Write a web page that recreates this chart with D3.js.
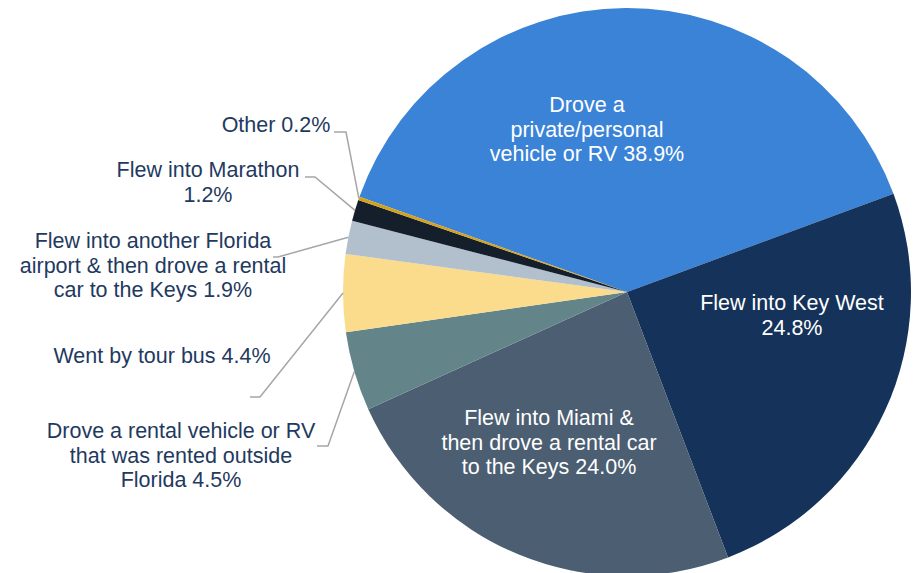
<!DOCTYPE html>
<html>
<head>
<meta charset="utf-8">
<script src="https://cdn.jsdelivr.net/npm/d3@7"></script>
<style>
  body { margin: 0; background: #fff; }
  text { font-family: "Liberation Sans", Arial, sans-serif; }
</style>
</head>
<body>
<div id="chart"></div>
<script>
// categories (clockwise, starting with the big blue slice)
var categories = [
    "Drove a private/personal vehicle or RV",
    "Flew into Key West",
    "Flew into Miami & then drove a rental car to the Keys",
    "Drove a rental vehicle or RV that was rented outside Florida",
    "Went by tour bus",
    "Flew into another Florida airport & then drove a rental car to the Keys",
    "Flew into Marathon",
    "Other"
];
var values = [38.9, 24.8, 24.0, 4.5, 4.4, 1.9, 1.2, 0.2];
var colors = ["#3b83d7", "#15325a", "#4b5e72", "#63858a", "#fadc8c", "#b2bfcc", "#141f2b", "#d6a11a"];

// label text lines, as printed on the chart
var labelLines = [
    ["Drove a", "private/personal", "vehicle or RV 38.9%"],
    ["Flew into Key West", "24.8%"],
    ["Flew into Miami &", "then drove a rental car", "to the Keys 24.0%"],
    ["Drove a rental vehicle or RV", "that was rented outside", "Florida 4.5%"],
    ["Went by tour bus 4.4%"],
    ["Flew into another Florida", "airport & then drove a rental", "car to the Keys 1.9%"],
    ["Flew into Marathon", "1.2%"],
    ["Other 0.2%"]
];

var width = 913, height = 573;
var cx = 627, cy = 292, radius = 284;
var lineH = 24.5;

// where each label sits: x centre, first baseline, inside/outside, leader elbow
var labelLayout = [
    {x: 587, y: 112, inside: true},
    {x: 792, y: 310, inside: true},
    {x: 549, y: 425, inside: true},
    {x: 181, y: 438, inside: false, anchor: [317, 446], elbow: [328, 446]},
    {x: 162, y: 363, inside: false, anchor: [250, 397], elbow: [260, 397]},
    {x: 153, y: 248, inside: false, anchor: [273, 257], elbow: [278, 257]},
    {x: 208, y: 177, inside: false, anchor: [305, 177], elbow: [315, 177]},
    {x: 276, y: 132, inside: false, anchor: [334, 132], elbow: [346, 132]}
];

var startDeg = -70.4;
var pie = d3.pie()
    .sort(null)
    .value(function(d) { return d; })
    .startAngle(startDeg * Math.PI / 180)
    .endAngle(startDeg * Math.PI / 180 + 2 * Math.PI);

var arc = d3.arc().innerRadius(0).outerRadius(radius);
var edgeArc = d3.arc().innerRadius(radius).outerRadius(radius);

var svg = d3.select("#chart").append("svg")
    .attr("width", width)
    .attr("height", height);

var g = svg.append("g")
    .attr("transform", "translate(" + cx + "," + cy + ")");

var arcs = pie(values);

g.selectAll("path.slice")
    .data(arcs)
    .enter().append("path")
    .attr("class", "slice")
    .attr("d", arc)
    .attr("fill", function(d, i) { return colors[i]; });

// leader lines for the small slices
arcs.forEach(function(d, i) {
    var lay = labelLayout[i];
    if (lay.inside) return;
    var p = edgeArc.centroid(d);
    var pts = [lay.anchor, lay.elbow, [cx + p[0], cy + p[1]]];
    svg.append("path")
        .attr("d", d3.line()(pts))
        .attr("fill", "none")
        .attr("stroke", "#a6a6a6")
        .attr("stroke-width", 1.5);
});

// labels
labelLines.forEach(function(lines, i) {
    var lay = labelLayout[i];
    var t = svg.append("text")
        .attr("text-anchor", "middle")
        .attr("font-size", "21.5px")
        .attr("fill", lay.inside ? "#ffffff" : "#1f3a5f");
    lines.forEach(function(s, k) {
        t.append("tspan")
            .attr("x", lay.x)
            .attr("y", lay.y + k * lineH)
            .text(s);
    });
});
</script>
</body>
</html>
